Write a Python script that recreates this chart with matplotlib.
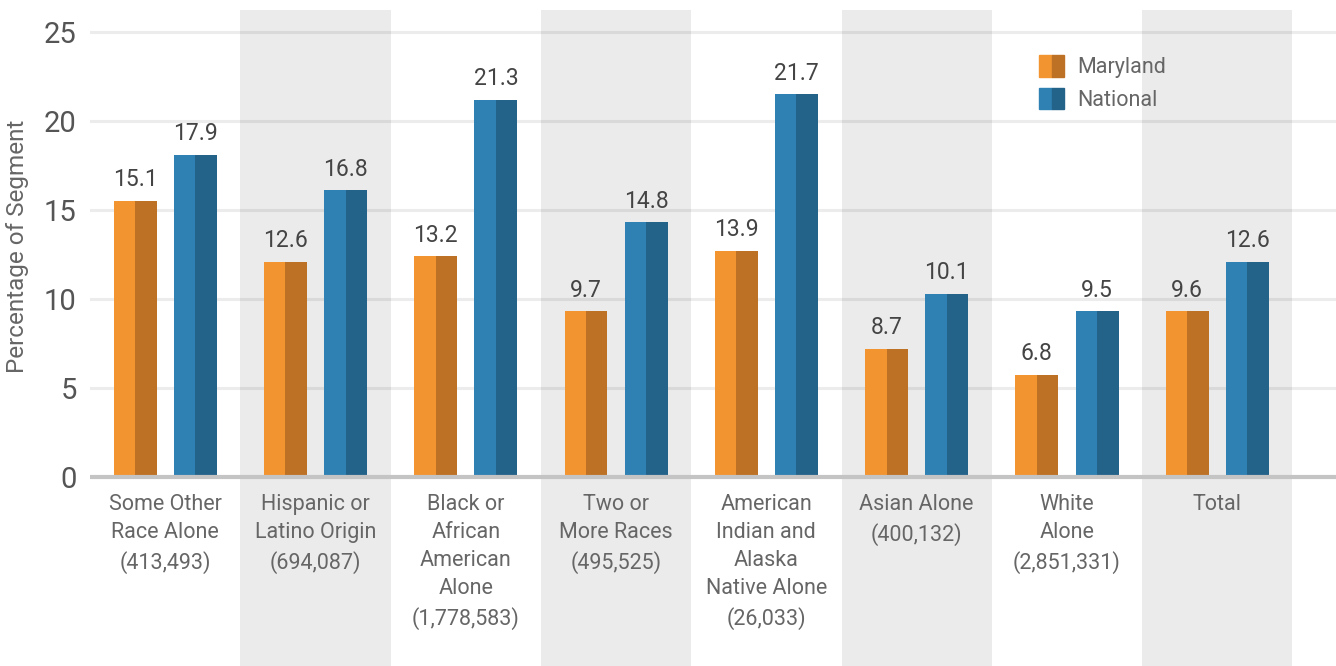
import numpy as np
import matplotlib.pyplot as plt
from matplotlib.patches import Patch
from matplotlib.legend_handler import HandlerTuple

plt.rcParams['font.family'] = ['Roboto', 'DejaVu Sans']

categories = ["Some Other\nRace Alone\n(413,493)",
              "Hispanic or\nLatino Origin\n(694,087)",
              "Black or\nAfrican\nAmerican\nAlone\n(1,778,583)",
              "Two or\nMore Races\n(495,525)",
              "American\nIndian and\nAlaska\nNative Alone\n(26,033)",
              "Asian Alone\n(400,132)",
              "White\nAlone\n(2,851,331)",
              "Total"]

# bar heights as drawn in the picture
maryland = [15.5, 12.1, 12.4, 9.3, 12.7, 7.2, 5.75, 9.3]
national = [18.1, 16.1, 21.2, 14.3, 21.5, 10.3, 9.3, 12.1]
# labels as printed above the bars
maryland_labels = ["15.1", "12.6", "13.2", "9.7", "13.9", "8.7", "6.8", "9.6"]
national_labels = ["17.9", "16.8", "21.3", "14.8", "21.7", "10.1", "9.5", "12.6"]

md_light, md_dark = '#f29430', '#bd7124'
na_light, na_dark = '#2f80b3', '#246389'

fig = plt.figure(figsize=(13.36, 6.66), dpi=100)
ax = fig.add_axes([90/1336, 0, 1 - 90/1336, 1 - 10/666])

x = np.arange(len(categories))
w = 0.286   # full bar width
off = 0.2   # offset of each bar from group centre

# alternating shaded bands
for i in x:
    if i % 2 == 1:
        ax.axvspan(i - 0.5, i + 0.5, color='#ebebeb', zorder=0, lw=0)

# gridlines
for yv in range(5, 30, 5):
    ax.axhline(yv, color='black', alpha=0.075, lw=2.2, zorder=1)
ax.axhline(0, color='#c4c4c4', lw=3, zorder=3)

# two-tone bars
ax.bar(x - off - w/4, maryland, w/2, color=md_light, zorder=2)
ax.bar(x - off + w/4, maryland, w/2, color=md_dark, zorder=2)
ax.bar(x + off - w/4, national, w/2, color=na_light, zorder=2)
ax.bar(x + off + w/4, national, w/2, color=na_dark, zorder=2)

for i in x:
    ax.annotate(maryland_labels[i], (i - off, maryland[i]), xytext=(0, 7),
                textcoords='offset points', ha='center', va='bottom',
                fontsize=16.5, color='#444444')
    ax.annotate(national_labels[i], (i + off, national[i]), xytext=(0, 7),
                textcoords='offset points', ha='center', va='bottom',
                fontsize=16.5, color='#444444')
    ax.annotate(categories[i], (i, 0), xytext=(0, -12),
                textcoords='offset points', ha='center', va='top',
                fontsize=15.5, color='#666666', linespacing=1.45)

ax.set_xlim(-0.5, 7.79)
ax.set_ylim(-10.62, 26.24)
ax.set_yticks(range(0, 30, 5))
ax.set_xticks([])
ax.tick_params(axis='y', length=0, pad=9.5, labelsize=21, labelcolor='#555555')
for s in ax.spines.values():
    s.set_visible(False)

fig.text(18/1336, 1 - 246/666, "Percentage of Segment", rotation=90,
         ha='center', va='center', fontsize=17.5, color='#666666')

handles = [(Patch(color=md_light), Patch(color=md_dark)),
           (Patch(color=na_light), Patch(color=na_dark))]
ax.legend(handles, ["Maryland", "National"],
          handler_map={tuple: HandlerTuple(ndivide=None, pad=0)},
          loc='upper left', bbox_to_anchor=(1020/1336, 1 - 36/666),
          bbox_transform=fig.transFigure, frameon=False,
          fontsize=15.5, labelcolor='#666666', handlelength=1.15,
          handleheight=1.15, handletextpad=0.6, labelspacing=0.45)

fig.savefig('out.png', dpi=100)
